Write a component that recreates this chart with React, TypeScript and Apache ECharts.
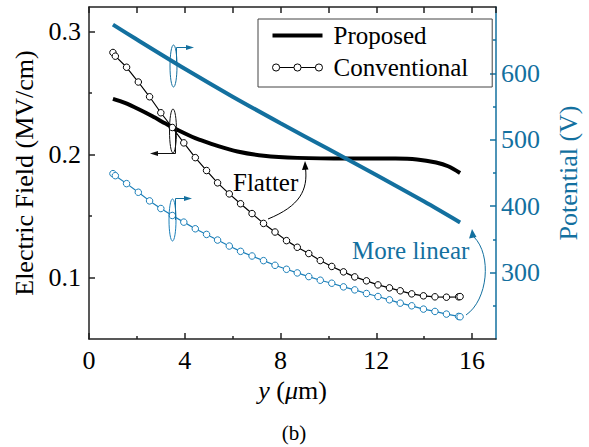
import React, { useEffect, useRef } from 'react';
import * as echarts from 'echarts';

const FONT = '"Liberation Serif", "Times New Roman", Times, serif';
const BLACK = '#111111';
const BLUE = '#13709f';
const BLUE_MARK = '#1b7fb9';

// Electric field (left axis, MV/cm) — Proposed
const proposedFieldX = [1.0, 1.5, 2.1, 2.65, 3.2, 3.75, 4.3, 4.6, 5.4, 6.2, 7.3, 8.7, 10.8, 12.8, 13.7, 14.5, 15.0, 15.5];
const proposedField = [0.2453, 0.242, 0.2366, 0.2311, 0.2252, 0.2195, 0.2145, 0.2122, 0.2068, 0.2025, 0.199, 0.1973, 0.1967, 0.1967, 0.196, 0.1935, 0.1905, 0.185];

// Conventional (shared sample positions, μm)
const conventionalX = [1.0, 1.1, 1.57, 2.06, 2.53, 3.0, 3.48, 3.96, 4.44, 4.91, 5.37, 5.86, 6.33, 6.81, 7.29, 7.77, 8.25, 8.7, 9.18, 9.66, 10.14, 10.63, 11.1, 11.59, 12.07, 12.55, 13.0, 13.48, 13.97, 14.45, 14.93, 15.44, 15.5];
const conventionalField = [0.283, 0.28, 0.271, 0.259, 0.247, 0.234, 0.222, 0.2095, 0.1975, 0.187, 0.177, 0.168, 0.16, 0.152, 0.144, 0.137, 0.13, 0.1246, 0.1195, 0.1138, 0.109, 0.1046, 0.1005, 0.0973, 0.094, 0.0916, 0.0892, 0.0867, 0.0851, 0.0843, 0.084, 0.0843, 0.0845];
const conventionalPotential = [449, 446, 434, 421, 408, 396.5, 386, 376, 366, 357.5, 349, 340, 332, 325, 318, 311, 305, 299.5, 294, 288.5, 284, 278.5, 274, 268.5, 264, 259, 254, 250, 245, 241.5, 237.5, 234, 233.5];

// Potential (right axis, V) — Proposed
const proposedPotentialX = [1, 2, 4, 6, 8, 10, 12, 14, 15.5];
const proposedPotential = [673.5, 651, 607, 565, 525, 486, 447, 407, 375.5];

// Tick values
const xMajorTicks = [0, 4, 8, 12, 16];
const xMinorTicks = [2, 6, 10, 14];
const leftMajorTicks = [0.1, 0.2, 0.3];
const leftMinorTicks = [0.15, 0.25];
const rightMajorTicks = [300, 400, 500, 600];
const rightMinorTicks = [250, 350, 450, 550, 650];

const zip = (xs: number[], ys: number[]) => xs.map((x, i) => [x, ys[i]]);

export default function App() {
  const ref = useRef<HTMLDivElement>(null);
  useEffect(() => {
    if (!ref.current) return;
    const chart = echarts.init(ref.current, undefined, { renderer: 'svg' });
    const tickStyle = (color: string) => ({ color, width: 1.5 });
    const LBL = 26;
    const option: any = {
      animation: false,
      backgroundColor: '#ffffff',
      textStyle: { fontFamily: FONT },
      grid: { left: 89, right: 88, top: 7, bottom: 108, containLabel: false },
      legend: {
        orient: 'vertical',
        left: 258,
        top: 19,
        padding: [4, 24, 7, 14],
        itemWidth: 50,
        itemHeight: 8,
        itemGap: 7,
        borderColor: '#444',
        borderWidth: 1,
        selectedMode: false,
        textStyle: { fontFamily: FONT, fontSize: 25, color: '#000', padding: [0, 0, 0, 6] },
        data: [
          {
            name: 'Proposed',
            icon: 'path://M0,2 H50 V6 H0 Z',
            itemStyle: { color: '#000', borderWidth: 0 },
          },
          {
            name: 'Conventional',
            icon: 'path://M0.5,4 A3.5,3.5 0 1,0 7.5,4 A3.5,3.5 0 1,0 0.5,4 Z M21.5,4 A3.5,3.5 0 1,0 28.5,4 A3.5,3.5 0 1,0 21.5,4 Z M42.5,4 A3.5,3.5 0 1,0 49.5,4 A3.5,3.5 0 1,0 42.5,4 Z M7.5,4 L21.5,4 M28.5,4 L42.5,4',
            itemStyle: { color: '#fff', borderColor: '#000', borderWidth: 1 },
          },
        ],
      },
      xAxis: [
        {
          type: 'value', position: 'bottom', min: 0, max: 17,
          axisLine: { show: true, onZero: false, lineStyle: tickStyle('#222') },
          axisTick: { show: true, inside: true, length: 6, customValues: xMajorTicks, lineStyle: tickStyle('#222') },
          axisLabel: { customValues: xMajorTicks, fontSize: LBL, fontFamily: FONT, color: '#000', margin: 8, formatter: (v: number) => String(v) },
          splitLine: { show: false },
          name: '{i|y} ({i|μ}m)',
          nameLocation: 'middle',
          nameGap: 36,
          nameTextStyle: {
            fontSize: LBL, fontFamily: FONT, color: '#000',
            rich: { i: { fontStyle: 'italic', fontSize: LBL, fontFamily: FONT, color: '#000' } },
          },
        },
        {
          type: 'value', position: 'bottom', min: 0, max: 17,
          axisLine: { show: false, onZero: false },
          axisTick: { show: true, inside: true, length: 3, customValues: xMinorTicks, lineStyle: tickStyle('#222') },
          axisLabel: { show: false },
          splitLine: { show: false },
        },
        {
          type: 'value', position: 'top', min: 0, max: 17, interval: 2,
          axisLine: { show: true, onZero: false, lineStyle: tickStyle('#222') },
          axisTick: { show: true, inside: true, length: 6, lineStyle: tickStyle('#222') },
          axisLabel: { show: false },
          splitLine: { show: false },
        },
      ],
      yAxis: [
        {
          type: 'value', position: 'left', min: 0.05, max: 0.32,
          axisLine: { show: true, onZero: false, lineStyle: tickStyle('#222') },
          axisTick: { show: true, inside: true, length: 6, customValues: leftMajorTicks, lineStyle: tickStyle('#222') },
          axisLabel: { customValues: leftMajorTicks, fontSize: LBL, fontFamily: FONT, color: '#000', margin: 8, formatter: (v: number) => v.toFixed(1) },
          splitLine: { show: false },
          name: 'Electric Field (MV/cm)',
          nameLocation: 'middle',
          nameRotate: 90,
          nameGap: 49,
          nameTextStyle: { fontSize: LBL, fontFamily: FONT, color: '#000' },
        },
        {
          type: 'value', position: 'right', min: 200, max: 700,
          axisLine: { show: true, onZero: false, lineStyle: tickStyle(BLUE) },
          axisTick: { show: true, inside: true, length: 6, customValues: rightMajorTicks, lineStyle: tickStyle(BLUE) },
          axisLabel: { customValues: rightMajorTicks, fontSize: LBL, fontFamily: FONT, color: BLUE, margin: 5 },
          splitLine: { show: false },
          name: 'Potential (V)',
          nameLocation: 'middle',
          nameRotate: 90,
          nameGap: 59,
          nameTextStyle: { fontSize: LBL, fontFamily: FONT, color: BLUE },
        },
        {
          type: 'value', position: 'left', min: 0.05, max: 0.32,
          axisLine: { show: false, onZero: false },
          axisTick: { show: true, inside: true, length: 3, customValues: leftMinorTicks, lineStyle: tickStyle('#222') },
          axisLabel: { show: false },
          splitLine: { show: false },
        },
        {
          type: 'value', position: 'right', min: 200, max: 700,
          axisLine: { show: false, onZero: false },
          axisTick: { show: true, inside: true, length: 3, customValues: rightMinorTicks, lineStyle: tickStyle(BLUE) },
          axisLabel: { show: false },
          splitLine: { show: false },
        },
      ],
      series: [
        {
          name: 'Proposed', type: 'line', xAxisIndex: 0, yAxisIndex: 0,
          data: zip(proposedFieldX, proposedField),
          symbol: 'none', smooth: 0.3,
          lineStyle: { color: '#000', width: 4 },
          itemStyle: { color: '#000' },
          z: 2,
        },
        {
          name: 'Conventional', type: 'line', xAxisIndex: 0, yAxisIndex: 0,
          data: zip(conventionalX, conventionalField),
          symbol: 'circle', symbolSize: 6.5, showSymbol: true,
          lineStyle: { color: '#000', width: 1.2 },
          itemStyle: { color: '#fff', borderColor: '#000', borderWidth: 1 },
          z: 3,
        },
        {
          name: 'Proposed', type: 'line', xAxisIndex: 0, yAxisIndex: 1,
          data: zip(proposedPotentialX, proposedPotential),
          symbol: 'none', smooth: 0.3,
          lineStyle: { color: BLUE, width: 4 },
          itemStyle: { color: BLUE },
          z: 4,
        },
        {
          name: 'Conventional', type: 'line', xAxisIndex: 0, yAxisIndex: 1,
          data: zip(conventionalX, conventionalPotential),
          symbol: 'circle', symbolSize: 6.5, showSymbol: true,
          lineStyle: { color: BLUE_MARK, width: 1.2 },
          itemStyle: { color: '#fff', borderColor: BLUE_MARK, borderWidth: 1 },
          z: 3,
        },
      ],
      graphic: [
        // black ellipse + left arrow (left axis marker)
        { type: 'ellipse', z: 100, shape: { cx: 173, cy: 131, rx: 3.5, ry: 22 }, style: { fill: 'none', stroke: BLACK, lineWidth: 1 } },
        { type: 'polyline', z: 100, shape: { points: [[175.5, 131], [175.5, 153.5], [156, 153.5]] }, style: { fill: 'none', stroke: BLACK, lineWidth: 1 } },
        { type: 'polygon', z: 100, shape: { points: [[150, 153.5], [158, 151], [158, 156]] }, style: { fill: BLACK } },
        // blue ellipse (top) + right arrow
        { type: 'ellipse', z: 100, shape: { cx: 173.5, cy: 66, rx: 3.5, ry: 21 }, style: { fill: 'none', stroke: BLUE, lineWidth: 1 } },
        { type: 'polyline', z: 100, shape: { points: [[176.5, 66], [176.5, 47.5], [188, 47.5]] }, style: { fill: 'none', stroke: BLUE, lineWidth: 1 } },
        { type: 'polygon', z: 100, shape: { points: [[194, 47.5], [186, 45], [186, 50]] }, style: { fill: BLUE } },
        // blue ellipse (bottom) + right arrow
        { type: 'ellipse', z: 100, shape: { cx: 172.5, cy: 220, rx: 3.5, ry: 21 }, style: { fill: 'none', stroke: BLUE_MARK, lineWidth: 1 } },
        { type: 'polyline', z: 100, shape: { points: [[175.5, 220], [175.5, 198.5], [186, 198.5]] }, style: { fill: 'none', stroke: BLUE, lineWidth: 1 } },
        { type: 'polygon', z: 100, shape: { points: [[192, 198.5], [184, 196], [184, 201]] }, style: { fill: BLUE } },
        // Flatter
        { type: 'text', z: 100, x: 233, y: 182, style: { text: 'Flatter', fontSize: 25, fontFamily: FONT, fill: '#000', align: 'left', verticalAlign: 'middle' } },
        { type: 'bezierCurve', z: 100, shape: { x1: 268, y1: 219, cpx1: 300, cpy1: 206, cpx2: 308, cpy2: 190, x2: 305.5, y2: 168 }, style: { fill: 'none', stroke: '#000', lineWidth: 1 } },
        { type: 'polygon', z: 100, shape: { points: [[305, 161], [302, 170], [308.5, 169.5]] }, style: { fill: '#000' } },
        // More linear
        { type: 'text', z: 100, x: 352, y: 250, style: { text: 'More linear', fontSize: 25, fontFamily: FONT, fill: BLUE, align: 'left', verticalAlign: 'middle' } },
        { type: 'bezierCurve', z: 100, shape: { x1: 466, y1: 315, cpx1: 488, cpy1: 300, cpx2: 492, cpy2: 255, x2: 474, y2: 237 }, style: { fill: 'none', stroke: BLUE, lineWidth: 1 } },
        { type: 'polygon', z: 100, shape: { points: [[472, 229], [469, 238.5], [476.5, 237]] }, style: { fill: BLUE } },
        // caption
        { type: 'text', z: 100, x: 294, y: 433, style: { text: '(b)', fontSize: 21, fontFamily: FONT, fill: '#000', align: 'center', verticalAlign: 'middle' } },
      ],
    };
    chart.setOption(option);
    return () => chart.dispose();
  }, []);
  return (
    <div
      ref={ref}
      style={{ position: 'absolute', left: 0, top: 0, width: 589, height: 447, background: '#fff' }}
    />
  );
}
